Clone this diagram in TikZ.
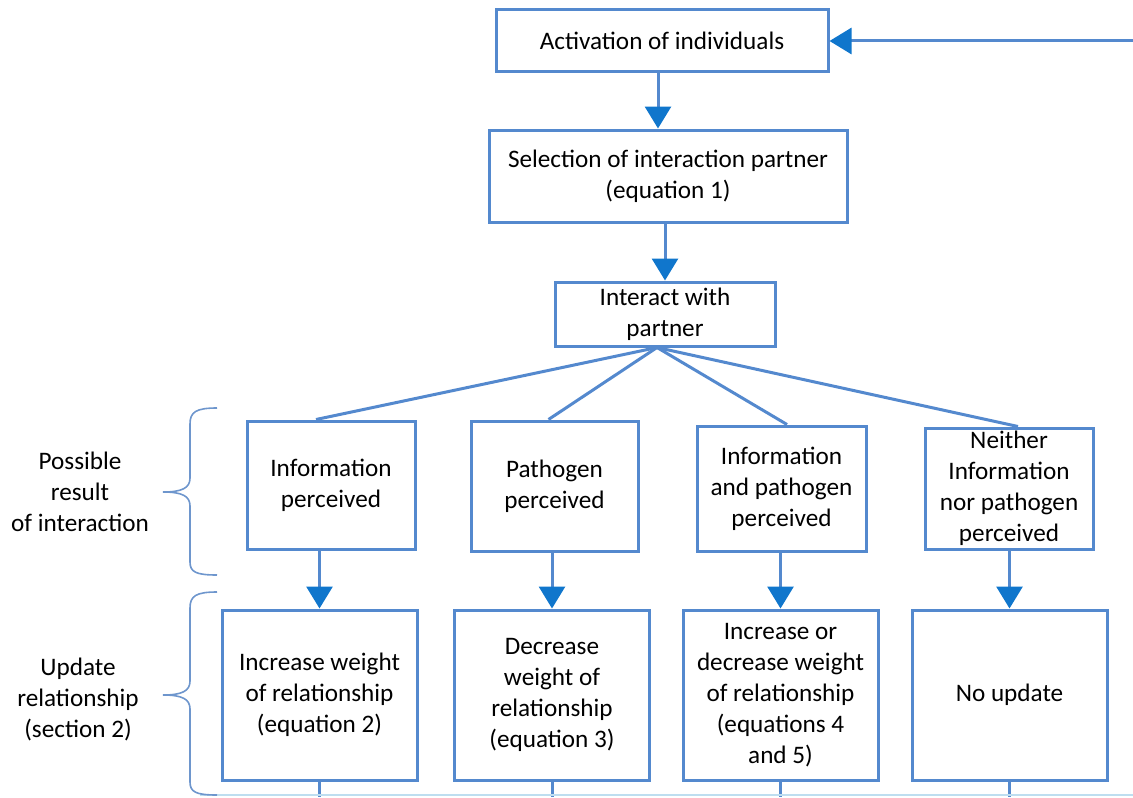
\documentclass[tikz,border=0pt]{standalone}
\usepackage{fontspec}
\setmainfont{Carlito}
\usetikzlibrary{arrows.meta}
\definecolor{boxblue}{RGB}{84,137,206}
\definecolor{tipblue}{RGB}{16,118,204}
\definecolor{braceblue}{RGB}{110,150,205}
\definecolor{edgeblue}{RGB}{190,222,240}
\begin{document}
\begin{tikzpicture}[x=0.5pt, y=-0.5pt,
    stepbox/.style={draw=boxblue, line width=1.5pt, align=center, inner sep=1pt,
        font=\fontsize{12.6}{15.5}\selectfont},
    flow/.style={draw=boxblue, line width=1.5pt,
        -{Triangle[length=11pt, width=13pt, color=tipblue]}},
    fan/.style={draw=boxblue, line width=1.5pt},
    bracket/.style={draw=braceblue, line width=0.8pt},
    side label/.style={align=center, font=\fontsize{12.6}{15.5}\selectfont}
]
    \useasboundingbox (0,0) rectangle (1133,797);

    % --- upper chain ---
    \node[stepbox, minimum width=166pt, minimum height=31pt] (act) at (662,41) {Activation of individuals};
    \node[stepbox, minimum width=179pt, minimum height=46pt] (sel) at (668,176) {Selection of interaction partner\\(equation 1)};
    \node[stepbox, minimum width=110pt, minimum height=32pt] (inter) at (665,314) {Interact with\\partner};

    % --- possible results ---
    \node[stepbox, minimum width=84pt, minimum height=64pt] (resA) at (331,485) {Information\\perceived};
    \node[stepbox, minimum width=83.5pt, minimum height=65pt] (resB) at (554.5,486) {Pathogen\\perceived};
    \node[stepbox, minimum width=84.5pt, minimum height=62.5pt] (resC) at (781.5,488.5) {Information\\and pathogen\\perceived};
    \node[stepbox, minimum width=84pt, minimum height=60.5pt] (resD) at (1009,488.5) {Neither\\Information\\nor pathogen\\perceived};

    % --- updates ---
    \node[stepbox, minimum width=97.5pt, minimum height=85pt] (updA) at (319.5,695) {Increase weight\\of relationship\\(equation 2)};
    \node[stepbox, minimum width=97.5pt, minimum height=85pt] (updB) at (552,695) {Decrease\\weight of\\relationship\\(equation 3)};
    \node[stepbox, minimum width=97.5pt, minimum height=85pt] (updC) at (780.5,695) {Increase or\\decrease weight\\of relationship\\(equations 4\\and 5)};
    \node[stepbox, minimum width=97.5pt, minimum height=85pt] (updD) at (1009.5,695) {No update};

    % --- side labels ---
    \node[side label] (labRes) at (80,492) {Possible\\result\\of interaction};
    \node[side label] (labUpd) at (78,699) {Update\\relationship\\(section 2)};

    % --- connectors ---
    \coordinate (loopIn) at (1133,41);
    \draw[flow] (loopIn) -- (act.east);
    \draw[flow] ([xshift=-2pt]act.south) -- ([xshift=-2pt]act.south |- sel.north);
    \draw[flow] (inter.north |- sel.south) -- (inter.north);
    \foreach \r/\dx in {resA/-7.5pt, resB/-3pt, resC/2.75pt, resD/4.5pt}
        \draw[fan] ([xshift=-4pt]inter.south) -- ([xshift=\dx]\r.north);
    \foreach \r/\u in {resA/updA, resB/updB, resC/updC, resD/updD}
        \draw[flow] (\u.north |- \r.south) -- (\u.north);
    \foreach \u in {updA, updB, updC, updD} {
        \coordinate (\u-out) at (\u.south |- 0,797);
        \draw[fan] (\u.south) -- (\u-out);
    }
    \draw[edgeblue, line width=1.2pt] (200,795) -- (1133,795);

    % --- braces ---
    \draw[bracket] (217,408) .. controls (196,408) and (190,412) .. (190,424) -- (190,478)
        .. controls (190,488) and (182,492) .. (163,492) .. controls (182,492) and (190,496) .. (190,506)
        -- (190,562) .. controls (190,572) and (196,575) .. (217,575);
    \draw[bracket] (217,592) .. controls (196,592) and (190,596) .. (190,608) -- (190,681)
        .. controls (190,691) and (182,695) .. (163,695) .. controls (182,695) and (190,699) .. (190,709)
        -- (190,782) .. controls (190,792) and (196,795) .. (217,795);
\end{tikzpicture}
\end{document}
